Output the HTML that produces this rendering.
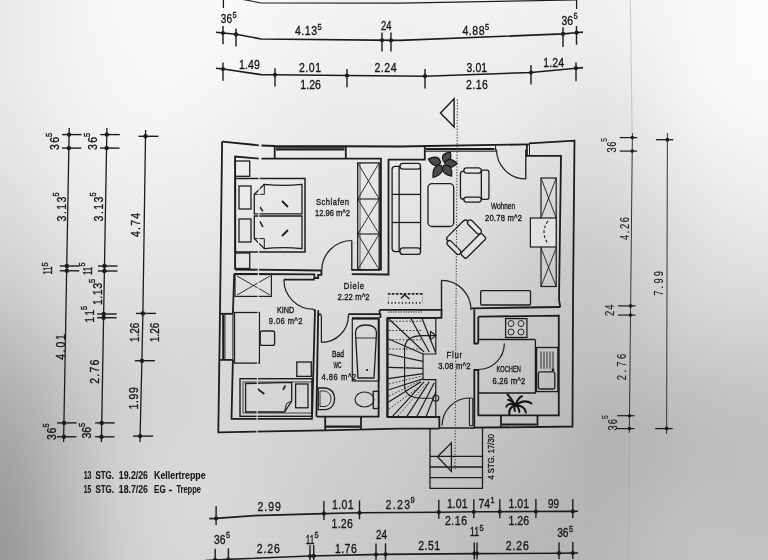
<!DOCTYPE html>
<html><head><meta charset="utf-8"><style>
html,body{margin:0;padding:0;}
body{width:768px;height:560px;overflow:hidden;position:relative;background:#dcdddb;}
svg{position:absolute;left:0;top:0;will-change:transform;}
text{font-family:"Liberation Sans",sans-serif;}
</style></head><body>
<svg width="768" height="560" viewBox="0 0 768 560">
<defs><filter id="bl" x="-20%" y="-20%" width="140%" height="140%"><feGaussianBlur stdDeviation="22"/></filter></defs>
<g filter="url(#bl)">
<rect x="-96" y="-93" width="50" height="48" fill="rgb(229,231,230)"/>
<rect x="-48" y="-93" width="50" height="48" fill="rgb(229,231,230)"/>
<rect x="0" y="-93" width="50" height="48" fill="rgb(234,236,235)"/>
<rect x="48" y="-93" width="50" height="48" fill="rgb(242,244,243)"/>
<rect x="96" y="-93" width="50" height="48" fill="rgb(247,249,248)"/>
<rect x="144" y="-93" width="50" height="48" fill="rgb(249,251,250)"/>
<rect x="192" y="-93" width="50" height="48" fill="rgb(249,251,250)"/>
<rect x="240" y="-93" width="50" height="48" fill="rgb(247,249,248)"/>
<rect x="288" y="-93" width="50" height="48" fill="rgb(244,246,245)"/>
<rect x="336" y="-93" width="50" height="48" fill="rgb(242,244,243)"/>
<rect x="384" y="-93" width="50" height="48" fill="rgb(241,243,242)"/>
<rect x="432" y="-93" width="50" height="48" fill="rgb(241,243,242)"/>
<rect x="480" y="-93" width="50" height="48" fill="rgb(241,243,242)"/>
<rect x="528" y="-93" width="50" height="48" fill="rgb(241,243,242)"/>
<rect x="576" y="-93" width="50" height="48" fill="rgb(241,243,242)"/>
<rect x="624" y="-93" width="50" height="48" fill="rgb(244,246,245)"/>
<rect x="672" y="-93" width="50" height="48" fill="rgb(248,250,249)"/>
<rect x="720" y="-93" width="50" height="48" fill="rgb(250,252,251)"/>
<rect x="768" y="-93" width="50" height="48" fill="rgb(250,252,251)"/>
<rect x="816" y="-93" width="50" height="48" fill="rgb(250,252,251)"/>
<rect x="-96" y="-47" width="50" height="48" fill="rgb(229,231,230)"/>
<rect x="-48" y="-47" width="50" height="48" fill="rgb(229,231,230)"/>
<rect x="0" y="-47" width="50" height="48" fill="rgb(234,236,235)"/>
<rect x="48" y="-47" width="50" height="48" fill="rgb(242,244,243)"/>
<rect x="96" y="-47" width="50" height="48" fill="rgb(247,249,248)"/>
<rect x="144" y="-47" width="50" height="48" fill="rgb(249,251,250)"/>
<rect x="192" y="-47" width="50" height="48" fill="rgb(249,251,250)"/>
<rect x="240" y="-47" width="50" height="48" fill="rgb(247,249,248)"/>
<rect x="288" y="-47" width="50" height="48" fill="rgb(244,246,245)"/>
<rect x="336" y="-47" width="50" height="48" fill="rgb(242,244,243)"/>
<rect x="384" y="-47" width="50" height="48" fill="rgb(241,243,242)"/>
<rect x="432" y="-47" width="50" height="48" fill="rgb(241,243,242)"/>
<rect x="480" y="-47" width="50" height="48" fill="rgb(241,243,242)"/>
<rect x="528" y="-47" width="50" height="48" fill="rgb(241,243,242)"/>
<rect x="576" y="-47" width="50" height="48" fill="rgb(241,243,242)"/>
<rect x="624" y="-47" width="50" height="48" fill="rgb(244,246,245)"/>
<rect x="672" y="-47" width="50" height="48" fill="rgb(248,250,249)"/>
<rect x="720" y="-47" width="50" height="48" fill="rgb(250,252,251)"/>
<rect x="768" y="-47" width="50" height="48" fill="rgb(250,252,251)"/>
<rect x="816" y="-47" width="50" height="48" fill="rgb(250,252,251)"/>
<rect x="-96" y="0" width="50" height="48" fill="rgb(229,231,230)"/>
<rect x="-48" y="0" width="50" height="48" fill="rgb(229,231,230)"/>
<rect x="0" y="0" width="50" height="48" fill="rgb(234,236,235)"/>
<rect x="48" y="0" width="50" height="48" fill="rgb(243,245,244)"/>
<rect x="96" y="0" width="50" height="48" fill="rgb(247,249,248)"/>
<rect x="144" y="0" width="50" height="48" fill="rgb(249,251,250)"/>
<rect x="192" y="0" width="50" height="48" fill="rgb(248,250,249)"/>
<rect x="240" y="0" width="50" height="48" fill="rgb(245,247,246)"/>
<rect x="288" y="0" width="50" height="48" fill="rgb(242,244,243)"/>
<rect x="336" y="0" width="50" height="48" fill="rgb(240,242,241)"/>
<rect x="384" y="0" width="50" height="48" fill="rgb(240,242,241)"/>
<rect x="432" y="0" width="50" height="48" fill="rgb(240,242,241)"/>
<rect x="480" y="0" width="50" height="48" fill="rgb(240,242,241)"/>
<rect x="528" y="0" width="50" height="48" fill="rgb(238,240,239)"/>
<rect x="576" y="0" width="50" height="48" fill="rgb(238,240,239)"/>
<rect x="624" y="0" width="50" height="48" fill="rgb(242,244,243)"/>
<rect x="672" y="0" width="50" height="48" fill="rgb(247,249,248)"/>
<rect x="720" y="0" width="50" height="48" fill="rgb(250,252,251)"/>
<rect x="768" y="0" width="50" height="48" fill="rgb(250,252,251)"/>
<rect x="816" y="0" width="50" height="48" fill="rgb(250,252,251)"/>
<rect x="-96" y="47" width="50" height="48" fill="rgb(229,231,230)"/>
<rect x="-48" y="47" width="50" height="48" fill="rgb(229,231,230)"/>
<rect x="0" y="47" width="50" height="48" fill="rgb(234,236,235)"/>
<rect x="48" y="47" width="50" height="48" fill="rgb(242,244,243)"/>
<rect x="96" y="47" width="50" height="48" fill="rgb(246,248,247)"/>
<rect x="144" y="47" width="50" height="48" fill="rgb(248,250,249)"/>
<rect x="192" y="47" width="50" height="48" fill="rgb(246,248,247)"/>
<rect x="240" y="47" width="50" height="48" fill="rgb(242,244,243)"/>
<rect x="288" y="47" width="50" height="48" fill="rgb(238,240,239)"/>
<rect x="336" y="47" width="50" height="48" fill="rgb(237,239,238)"/>
<rect x="384" y="47" width="50" height="48" fill="rgb(237,239,238)"/>
<rect x="432" y="47" width="50" height="48" fill="rgb(238,240,239)"/>
<rect x="480" y="47" width="50" height="48" fill="rgb(237,239,238)"/>
<rect x="528" y="47" width="50" height="48" fill="rgb(234,236,235)"/>
<rect x="576" y="47" width="50" height="48" fill="rgb(232,234,233)"/>
<rect x="624" y="47" width="50" height="48" fill="rgb(238,240,239)"/>
<rect x="672" y="47" width="50" height="48" fill="rgb(247,249,248)"/>
<rect x="720" y="47" width="50" height="48" fill="rgb(250,252,251)"/>
<rect x="768" y="47" width="50" height="48" fill="rgb(250,252,251)"/>
<rect x="816" y="47" width="50" height="48" fill="rgb(250,252,251)"/>
<rect x="-96" y="93" width="50" height="48" fill="rgb(226,228,227)"/>
<rect x="-48" y="93" width="50" height="48" fill="rgb(226,228,227)"/>
<rect x="0" y="93" width="50" height="48" fill="rgb(231,233,232)"/>
<rect x="48" y="93" width="50" height="48" fill="rgb(239,241,240)"/>
<rect x="96" y="93" width="50" height="48" fill="rgb(244,246,245)"/>
<rect x="144" y="93" width="50" height="48" fill="rgb(245,247,246)"/>
<rect x="192" y="93" width="50" height="48" fill="rgb(242,244,243)"/>
<rect x="240" y="93" width="50" height="48" fill="rgb(238,240,239)"/>
<rect x="288" y="93" width="50" height="48" fill="rgb(234,236,235)"/>
<rect x="336" y="93" width="50" height="48" fill="rgb(233,235,234)"/>
<rect x="384" y="93" width="50" height="48" fill="rgb(234,236,235)"/>
<rect x="432" y="93" width="50" height="48" fill="rgb(235,237,236)"/>
<rect x="480" y="93" width="50" height="48" fill="rgb(234,236,235)"/>
<rect x="528" y="93" width="50" height="48" fill="rgb(228,230,229)"/>
<rect x="576" y="93" width="50" height="48" fill="rgb(224,226,225)"/>
<rect x="624" y="93" width="50" height="48" fill="rgb(232,234,233)"/>
<rect x="672" y="93" width="50" height="48" fill="rgb(243,245,244)"/>
<rect x="720" y="93" width="50" height="48" fill="rgb(247,249,248)"/>
<rect x="768" y="93" width="50" height="48" fill="rgb(248,250,249)"/>
<rect x="816" y="93" width="50" height="48" fill="rgb(248,250,249)"/>
<rect x="-96" y="140" width="50" height="48" fill="rgb(222,224,223)"/>
<rect x="-48" y="140" width="50" height="48" fill="rgb(222,224,223)"/>
<rect x="0" y="140" width="50" height="48" fill="rgb(227,229,228)"/>
<rect x="48" y="140" width="50" height="48" fill="rgb(235,237,236)"/>
<rect x="96" y="140" width="50" height="48" fill="rgb(239,241,240)"/>
<rect x="144" y="140" width="50" height="48" fill="rgb(239,241,240)"/>
<rect x="192" y="140" width="50" height="48" fill="rgb(237,239,238)"/>
<rect x="240" y="140" width="50" height="48" fill="rgb(234,236,235)"/>
<rect x="288" y="140" width="50" height="48" fill="rgb(231,233,232)"/>
<rect x="336" y="140" width="50" height="48" fill="rgb(230,232,231)"/>
<rect x="384" y="140" width="50" height="48" fill="rgb(231,233,232)"/>
<rect x="432" y="140" width="50" height="48" fill="rgb(230,232,231)"/>
<rect x="480" y="140" width="50" height="48" fill="rgb(227,229,228)"/>
<rect x="528" y="140" width="50" height="48" fill="rgb(221,223,222)"/>
<rect x="576" y="140" width="50" height="48" fill="rgb(220,222,221)"/>
<rect x="624" y="140" width="50" height="48" fill="rgb(226,228,227)"/>
<rect x="672" y="140" width="50" height="48" fill="rgb(235,237,236)"/>
<rect x="720" y="140" width="50" height="48" fill="rgb(240,242,241)"/>
<rect x="768" y="140" width="50" height="48" fill="rgb(242,244,243)"/>
<rect x="816" y="140" width="50" height="48" fill="rgb(242,244,243)"/>
<rect x="-96" y="187" width="50" height="48" fill="rgb(215,217,216)"/>
<rect x="-48" y="187" width="50" height="48" fill="rgb(215,217,216)"/>
<rect x="0" y="187" width="50" height="48" fill="rgb(221,223,222)"/>
<rect x="48" y="187" width="50" height="48" fill="rgb(230,232,231)"/>
<rect x="96" y="187" width="50" height="48" fill="rgb(234,236,235)"/>
<rect x="144" y="187" width="50" height="48" fill="rgb(234,236,235)"/>
<rect x="192" y="187" width="50" height="48" fill="rgb(232,234,233)"/>
<rect x="240" y="187" width="50" height="48" fill="rgb(230,232,231)"/>
<rect x="288" y="187" width="50" height="48" fill="rgb(228,230,229)"/>
<rect x="336" y="187" width="50" height="48" fill="rgb(227,229,228)"/>
<rect x="384" y="187" width="50" height="48" fill="rgb(227,229,228)"/>
<rect x="432" y="187" width="50" height="48" fill="rgb(224,226,225)"/>
<rect x="480" y="187" width="50" height="48" fill="rgb(219,221,220)"/>
<rect x="528" y="187" width="50" height="48" fill="rgb(212,214,213)"/>
<rect x="576" y="187" width="50" height="48" fill="rgb(210,212,211)"/>
<rect x="624" y="187" width="50" height="48" fill="rgb(218,220,219)"/>
<rect x="672" y="187" width="50" height="48" fill="rgb(227,229,228)"/>
<rect x="720" y="187" width="50" height="48" fill="rgb(233,235,234)"/>
<rect x="768" y="187" width="50" height="48" fill="rgb(234,236,235)"/>
<rect x="816" y="187" width="50" height="48" fill="rgb(234,236,235)"/>
<rect x="-96" y="233" width="50" height="48" fill="rgb(207,209,208)"/>
<rect x="-48" y="233" width="50" height="48" fill="rgb(207,209,208)"/>
<rect x="0" y="233" width="50" height="48" fill="rgb(213,215,214)"/>
<rect x="48" y="233" width="50" height="48" fill="rgb(223,225,224)"/>
<rect x="96" y="233" width="50" height="48" fill="rgb(228,230,229)"/>
<rect x="144" y="233" width="50" height="48" fill="rgb(228,230,229)"/>
<rect x="192" y="233" width="50" height="48" fill="rgb(227,229,228)"/>
<rect x="240" y="233" width="50" height="48" fill="rgb(225,227,226)"/>
<rect x="288" y="233" width="50" height="48" fill="rgb(224,226,225)"/>
<rect x="336" y="233" width="50" height="48" fill="rgb(223,225,224)"/>
<rect x="384" y="233" width="50" height="48" fill="rgb(222,224,223)"/>
<rect x="432" y="233" width="50" height="48" fill="rgb(219,221,220)"/>
<rect x="480" y="233" width="50" height="48" fill="rgb(212,214,213)"/>
<rect x="528" y="233" width="50" height="48" fill="rgb(203,205,204)"/>
<rect x="576" y="233" width="50" height="48" fill="rgb(200,202,201)"/>
<rect x="624" y="233" width="50" height="48" fill="rgb(210,212,211)"/>
<rect x="672" y="233" width="50" height="48" fill="rgb(221,223,222)"/>
<rect x="720" y="233" width="50" height="48" fill="rgb(225,227,226)"/>
<rect x="768" y="233" width="50" height="48" fill="rgb(226,228,227)"/>
<rect x="816" y="233" width="50" height="48" fill="rgb(226,228,227)"/>
<rect x="-96" y="280" width="50" height="48" fill="rgb(195,197,196)"/>
<rect x="-48" y="280" width="50" height="48" fill="rgb(195,197,196)"/>
<rect x="0" y="280" width="50" height="48" fill="rgb(202,204,203)"/>
<rect x="48" y="280" width="50" height="48" fill="rgb(214,216,215)"/>
<rect x="96" y="280" width="50" height="48" fill="rgb(221,223,222)"/>
<rect x="144" y="280" width="50" height="48" fill="rgb(222,224,223)"/>
<rect x="192" y="280" width="50" height="48" fill="rgb(221,223,222)"/>
<rect x="240" y="280" width="50" height="48" fill="rgb(220,222,221)"/>
<rect x="288" y="280" width="50" height="48" fill="rgb(220,222,221)"/>
<rect x="336" y="280" width="50" height="48" fill="rgb(218,220,219)"/>
<rect x="384" y="280" width="50" height="48" fill="rgb(216,218,217)"/>
<rect x="432" y="280" width="50" height="48" fill="rgb(212,214,213)"/>
<rect x="480" y="280" width="50" height="48" fill="rgb(205,207,206)"/>
<rect x="528" y="280" width="50" height="48" fill="rgb(198,200,199)"/>
<rect x="576" y="280" width="50" height="48" fill="rgb(196,198,197)"/>
<rect x="624" y="280" width="50" height="48" fill="rgb(204,206,205)"/>
<rect x="672" y="280" width="50" height="48" fill="rgb(214,216,215)"/>
<rect x="720" y="280" width="50" height="48" fill="rgb(216,218,217)"/>
<rect x="768" y="280" width="50" height="48" fill="rgb(215,217,216)"/>
<rect x="816" y="280" width="50" height="48" fill="rgb(215,217,216)"/>
<rect x="-96" y="327" width="50" height="48" fill="rgb(182,184,183)"/>
<rect x="-48" y="327" width="50" height="48" fill="rgb(182,184,183)"/>
<rect x="0" y="327" width="50" height="48" fill="rgb(189,191,190)"/>
<rect x="48" y="327" width="50" height="48" fill="rgb(203,205,204)"/>
<rect x="96" y="327" width="50" height="48" fill="rgb(212,214,213)"/>
<rect x="144" y="327" width="50" height="48" fill="rgb(215,217,216)"/>
<rect x="192" y="327" width="50" height="48" fill="rgb(216,218,217)"/>
<rect x="240" y="327" width="50" height="48" fill="rgb(216,218,217)"/>
<rect x="288" y="327" width="50" height="48" fill="rgb(215,217,216)"/>
<rect x="336" y="327" width="50" height="48" fill="rgb(213,215,214)"/>
<rect x="384" y="327" width="50" height="48" fill="rgb(210,212,211)"/>
<rect x="432" y="327" width="50" height="48" fill="rgb(206,208,207)"/>
<rect x="480" y="327" width="50" height="48" fill="rgb(200,202,201)"/>
<rect x="528" y="327" width="50" height="48" fill="rgb(194,196,195)"/>
<rect x="576" y="327" width="50" height="48" fill="rgb(192,194,193)"/>
<rect x="624" y="327" width="50" height="48" fill="rgb(196,198,197)"/>
<rect x="672" y="327" width="50" height="48" fill="rgb(203,205,204)"/>
<rect x="720" y="327" width="50" height="48" fill="rgb(204,206,205)"/>
<rect x="768" y="327" width="50" height="48" fill="rgb(205,207,206)"/>
<rect x="816" y="327" width="50" height="48" fill="rgb(205,207,206)"/>
<rect x="-96" y="373" width="50" height="48" fill="rgb(169,171,170)"/>
<rect x="-48" y="373" width="50" height="48" fill="rgb(169,171,170)"/>
<rect x="0" y="373" width="50" height="48" fill="rgb(177,179,178)"/>
<rect x="48" y="373" width="50" height="48" fill="rgb(195,197,196)"/>
<rect x="96" y="373" width="50" height="48" fill="rgb(207,209,208)"/>
<rect x="144" y="373" width="50" height="48" fill="rgb(212,214,213)"/>
<rect x="192" y="373" width="50" height="48" fill="rgb(214,216,215)"/>
<rect x="240" y="373" width="50" height="48" fill="rgb(213,215,214)"/>
<rect x="288" y="373" width="50" height="48" fill="rgb(211,213,212)"/>
<rect x="336" y="373" width="50" height="48" fill="rgb(209,211,210)"/>
<rect x="384" y="373" width="50" height="48" fill="rgb(205,207,206)"/>
<rect x="432" y="373" width="50" height="48" fill="rgb(201,203,202)"/>
<rect x="480" y="373" width="50" height="48" fill="rgb(196,198,197)"/>
<rect x="528" y="373" width="50" height="48" fill="rgb(190,192,191)"/>
<rect x="576" y="373" width="50" height="48" fill="rgb(183,185,184)"/>
<rect x="624" y="373" width="50" height="48" fill="rgb(186,188,187)"/>
<rect x="672" y="373" width="50" height="48" fill="rgb(192,194,193)"/>
<rect x="720" y="373" width="50" height="48" fill="rgb(195,197,196)"/>
<rect x="768" y="373" width="50" height="48" fill="rgb(196,198,197)"/>
<rect x="816" y="373" width="50" height="48" fill="rgb(196,198,197)"/>
<rect x="-96" y="420" width="50" height="48" fill="rgb(159,161,160)"/>
<rect x="-48" y="420" width="50" height="48" fill="rgb(159,161,160)"/>
<rect x="0" y="420" width="50" height="48" fill="rgb(168,170,169)"/>
<rect x="48" y="420" width="50" height="48" fill="rgb(190,192,191)"/>
<rect x="96" y="420" width="50" height="48" fill="rgb(207,209,208)"/>
<rect x="144" y="420" width="50" height="48" fill="rgb(214,216,215)"/>
<rect x="192" y="420" width="50" height="48" fill="rgb(215,217,216)"/>
<rect x="240" y="420" width="50" height="48" fill="rgb(212,214,213)"/>
<rect x="288" y="420" width="50" height="48" fill="rgb(208,210,209)"/>
<rect x="336" y="420" width="50" height="48" fill="rgb(205,207,206)"/>
<rect x="384" y="420" width="50" height="48" fill="rgb(201,203,202)"/>
<rect x="432" y="420" width="50" height="48" fill="rgb(196,198,197)"/>
<rect x="480" y="420" width="50" height="48" fill="rgb(192,194,193)"/>
<rect x="528" y="420" width="50" height="48" fill="rgb(188,190,189)"/>
<rect x="576" y="420" width="50" height="48" fill="rgb(174,176,175)"/>
<rect x="624" y="420" width="50" height="48" fill="rgb(180,182,181)"/>
<rect x="672" y="420" width="50" height="48" fill="rgb(187,189,188)"/>
<rect x="720" y="420" width="50" height="48" fill="rgb(189,191,190)"/>
<rect x="768" y="420" width="50" height="48" fill="rgb(190,192,191)"/>
<rect x="816" y="420" width="50" height="48" fill="rgb(190,192,191)"/>
<rect x="-96" y="467" width="50" height="48" fill="rgb(152,154,153)"/>
<rect x="-48" y="467" width="50" height="48" fill="rgb(152,154,153)"/>
<rect x="0" y="467" width="50" height="48" fill="rgb(162,164,163)"/>
<rect x="48" y="467" width="50" height="48" fill="rgb(187,189,188)"/>
<rect x="96" y="467" width="50" height="48" fill="rgb(207,209,208)"/>
<rect x="144" y="467" width="50" height="48" fill="rgb(216,218,217)"/>
<rect x="192" y="467" width="50" height="48" fill="rgb(216,218,217)"/>
<rect x="240" y="467" width="50" height="48" fill="rgb(211,213,212)"/>
<rect x="288" y="467" width="50" height="48" fill="rgb(205,207,206)"/>
<rect x="336" y="467" width="50" height="48" fill="rgb(202,204,203)"/>
<rect x="384" y="467" width="50" height="48" fill="rgb(199,201,200)"/>
<rect x="432" y="467" width="50" height="48" fill="rgb(193,195,194)"/>
<rect x="480" y="467" width="50" height="48" fill="rgb(188,190,189)"/>
<rect x="528" y="467" width="50" height="48" fill="rgb(184,186,185)"/>
<rect x="576" y="467" width="50" height="48" fill="rgb(177,179,178)"/>
<rect x="624" y="467" width="50" height="48" fill="rgb(184,186,185)"/>
<rect x="672" y="467" width="50" height="48" fill="rgb(190,192,191)"/>
<rect x="720" y="467" width="50" height="48" fill="rgb(190,192,191)"/>
<rect x="768" y="467" width="50" height="48" fill="rgb(191,193,192)"/>
<rect x="816" y="467" width="50" height="48" fill="rgb(191,193,192)"/>
<rect x="-96" y="513" width="50" height="48" fill="rgb(148,150,149)"/>
<rect x="-48" y="513" width="50" height="48" fill="rgb(148,150,149)"/>
<rect x="0" y="513" width="50" height="48" fill="rgb(157,159,158)"/>
<rect x="48" y="513" width="50" height="48" fill="rgb(183,185,184)"/>
<rect x="96" y="513" width="50" height="48" fill="rgb(206,208,207)"/>
<rect x="144" y="513" width="50" height="48" fill="rgb(215,217,216)"/>
<rect x="192" y="513" width="50" height="48" fill="rgb(215,217,216)"/>
<rect x="240" y="513" width="50" height="48" fill="rgb(210,212,211)"/>
<rect x="288" y="513" width="50" height="48" fill="rgb(205,207,206)"/>
<rect x="336" y="513" width="50" height="48" fill="rgb(201,203,202)"/>
<rect x="384" y="513" width="50" height="48" fill="rgb(198,200,199)"/>
<rect x="432" y="513" width="50" height="48" fill="rgb(192,194,193)"/>
<rect x="480" y="513" width="50" height="48" fill="rgb(186,188,187)"/>
<rect x="528" y="513" width="50" height="48" fill="rgb(181,183,182)"/>
<rect x="576" y="513" width="50" height="48" fill="rgb(180,182,181)"/>
<rect x="624" y="513" width="50" height="48" fill="rgb(189,191,190)"/>
<rect x="672" y="513" width="50" height="48" fill="rgb(194,196,195)"/>
<rect x="720" y="513" width="50" height="48" fill="rgb(193,195,194)"/>
<rect x="768" y="513" width="50" height="48" fill="rgb(192,194,193)"/>
<rect x="816" y="513" width="50" height="48" fill="rgb(192,194,193)"/>
<rect x="-96" y="560" width="50" height="48" fill="rgb(148,150,149)"/>
<rect x="-48" y="560" width="50" height="48" fill="rgb(148,150,149)"/>
<rect x="0" y="560" width="50" height="48" fill="rgb(155,157,156)"/>
<rect x="48" y="560" width="50" height="48" fill="rgb(180,182,181)"/>
<rect x="96" y="560" width="50" height="48" fill="rgb(203,205,204)"/>
<rect x="144" y="560" width="50" height="48" fill="rgb(212,214,213)"/>
<rect x="192" y="560" width="50" height="48" fill="rgb(213,215,214)"/>
<rect x="240" y="560" width="50" height="48" fill="rgb(209,211,210)"/>
<rect x="288" y="560" width="50" height="48" fill="rgb(205,207,206)"/>
<rect x="336" y="560" width="50" height="48" fill="rgb(201,203,202)"/>
<rect x="384" y="560" width="50" height="48" fill="rgb(197,199,198)"/>
<rect x="432" y="560" width="50" height="48" fill="rgb(191,193,192)"/>
<rect x="480" y="560" width="50" height="48" fill="rgb(186,188,187)"/>
<rect x="528" y="560" width="50" height="48" fill="rgb(181,183,182)"/>
<rect x="576" y="560" width="50" height="48" fill="rgb(181,183,182)"/>
<rect x="624" y="560" width="50" height="48" fill="rgb(188,190,189)"/>
<rect x="672" y="560" width="50" height="48" fill="rgb(193,195,194)"/>
<rect x="720" y="560" width="50" height="48" fill="rgb(193,195,194)"/>
<rect x="768" y="560" width="50" height="48" fill="rgb(193,195,194)"/>
<rect x="816" y="560" width="50" height="48" fill="rgb(193,195,194)"/>
<rect x="-96" y="607" width="50" height="48" fill="rgb(148,150,149)"/>
<rect x="-48" y="607" width="50" height="48" fill="rgb(148,150,149)"/>
<rect x="0" y="607" width="50" height="48" fill="rgb(155,157,156)"/>
<rect x="48" y="607" width="50" height="48" fill="rgb(180,182,181)"/>
<rect x="96" y="607" width="50" height="48" fill="rgb(203,205,204)"/>
<rect x="144" y="607" width="50" height="48" fill="rgb(212,214,213)"/>
<rect x="192" y="607" width="50" height="48" fill="rgb(213,215,214)"/>
<rect x="240" y="607" width="50" height="48" fill="rgb(209,211,210)"/>
<rect x="288" y="607" width="50" height="48" fill="rgb(205,207,206)"/>
<rect x="336" y="607" width="50" height="48" fill="rgb(201,203,202)"/>
<rect x="384" y="607" width="50" height="48" fill="rgb(197,199,198)"/>
<rect x="432" y="607" width="50" height="48" fill="rgb(191,193,192)"/>
<rect x="480" y="607" width="50" height="48" fill="rgb(186,188,187)"/>
<rect x="528" y="607" width="50" height="48" fill="rgb(181,183,182)"/>
<rect x="576" y="607" width="50" height="48" fill="rgb(181,183,182)"/>
<rect x="624" y="607" width="50" height="48" fill="rgb(188,190,189)"/>
<rect x="672" y="607" width="50" height="48" fill="rgb(193,195,194)"/>
<rect x="720" y="607" width="50" height="48" fill="rgb(193,195,194)"/>
<rect x="768" y="607" width="50" height="48" fill="rgb(193,195,194)"/>
<rect x="816" y="607" width="50" height="48" fill="rgb(193,195,194)"/>
</g>
</svg>
<svg width="768" height="560" viewBox="0 0 768 560">
<polyline points="241.0,-1.0 261.0,3.0 400.0,3.1 576.0,0.0" fill="none" stroke="#1c1c1c" stroke-width="1.2" />
<line x1="223.4" y1="-1.0" x2="223.4" y2="8.0" stroke="#1c1c1c" stroke-width="1.3" />
<line x1="576.6" y1="-1.0" x2="576.6" y2="9.0" stroke="#1c1c1c" stroke-width="1.3" />
<polyline points="216.0,32.2 223.0,33.0 236.0,34.3 261.0,39.0 400.0,40.4 563.0,33.9 576.0,32.7 583.0,32.1" fill="none" stroke="#1c1c1c" stroke-width="1.6" />
<line x1="223.0" y1="26.0" x2="223.0" y2="44.3" stroke="#1c1c1c" stroke-width="1.4" />
<circle cx="223.0" cy="33.0" r="2.1" fill="#1c1c1c"/>
<line x1="236.0" y1="28.6" x2="236.0" y2="46.4" stroke="#1c1c1c" stroke-width="1.4" />
<circle cx="236.0" cy="34.4" r="2.1" fill="#1c1c1c"/>
<line x1="382.0" y1="32.6" x2="382.0" y2="51.6" stroke="#1c1c1c" stroke-width="1.4" />
<circle cx="382.0" cy="40.3" r="2.1" fill="#1c1c1c"/>
<line x1="391.0" y1="32.6" x2="391.0" y2="51.6" stroke="#1c1c1c" stroke-width="1.4" />
<circle cx="391.0" cy="40.4" r="2.1" fill="#1c1c1c"/>
<line x1="563.0" y1="27.3" x2="563.0" y2="46.9" stroke="#1c1c1c" stroke-width="1.4" />
<circle cx="563.0" cy="33.9" r="2.1" fill="#1c1c1c"/>
<line x1="576.5" y1="26.0" x2="576.5" y2="44.8" stroke="#1c1c1c" stroke-width="1.4" />
<circle cx="576.5" cy="32.7" r="2.1" fill="#1c1c1c"/>
<polyline points="216.0,68.2 223.0,69.0 261.0,74.6 275.0,74.8 347.0,75.5 400.0,76.0 425.0,76.2 531.0,72.5 576.0,68.2 583.0,67.6" fill="none" stroke="#1c1c1c" stroke-width="1.6" />
<line x1="223.0" y1="62.5" x2="223.0" y2="80.7" stroke="#1c1c1c" stroke-width="1.4" />
<circle cx="223.0" cy="69.0" r="2.1" fill="#1c1c1c"/>
<line x1="275.0" y1="68.2" x2="275.0" y2="86.5" stroke="#1c1c1c" stroke-width="1.4" />
<circle cx="275.0" cy="74.8" r="2.1" fill="#1c1c1c"/>
<line x1="347.0" y1="69.0" x2="347.0" y2="87.2" stroke="#1c1c1c" stroke-width="1.4" />
<circle cx="347.0" cy="75.5" r="2.1" fill="#1c1c1c"/>
<line x1="425.0" y1="69.0" x2="425.0" y2="88.5" stroke="#1c1c1c" stroke-width="1.4" />
<circle cx="425.0" cy="76.2" r="2.1" fill="#1c1c1c"/>
<line x1="531.0" y1="65.0" x2="531.0" y2="84.6" stroke="#1c1c1c" stroke-width="1.4" />
<circle cx="531.0" cy="72.5" r="2.1" fill="#1c1c1c"/>
<line x1="576.0" y1="62.5" x2="576.0" y2="81.2" stroke="#1c1c1c" stroke-width="1.4" />
<circle cx="576.0" cy="68.2" r="2.1" fill="#1c1c1c"/>
<text transform="translate(220.8,22.9) scale(0.78,1)" font-size="13.5" textLength="14.4" lengthAdjust="spacingAndGlyphs" fill="#161616" stroke="#161616" stroke-width="0.35" font-weight="normal">36</text>
<text transform="translate(232.6,17.5) scale(0.78,1)" font-size="9.5" textLength="6.7" lengthAdjust="spacing" fill="#161616" stroke="#161616" stroke-width="0.35" font-weight="normal">5</text>
<text transform="translate(295.0,35.2) scale(0.78,1)" font-size="13.5" textLength="28.2" lengthAdjust="spacing" fill="#161616" stroke="#161616" stroke-width="0.35" font-weight="normal">4.13</text>
<text transform="translate(317.4,29.5) scale(0.78,1)" font-size="9.5" textLength="6.4" lengthAdjust="spacing" fill="#161616" stroke="#161616" stroke-width="0.35" font-weight="normal">5</text>
<text transform="translate(381.0,30.0) scale(0.78,1)" font-size="13.5" textLength="13.3" lengthAdjust="spacingAndGlyphs" fill="#161616" stroke="#161616" stroke-width="0.35" font-weight="normal">24</text>
<text transform="translate(462.5,35.2) scale(0.78,1)" font-size="13.5" textLength="28.2" lengthAdjust="spacing" fill="#161616" stroke="#161616" stroke-width="0.35" font-weight="normal">4.88</text>
<text transform="translate(484.9,29.5) scale(0.78,1)" font-size="9.5" textLength="6.3" lengthAdjust="spacing" fill="#161616" stroke="#161616" stroke-width="0.35" font-weight="normal">5</text>
<text transform="translate(561.5,24.7) scale(0.78,1)" font-size="13.5" textLength="14.7" lengthAdjust="spacingAndGlyphs" fill="#161616" stroke="#161616" stroke-width="0.35" font-weight="normal">36</text>
<text transform="translate(573.4,19.3) scale(0.78,1)" font-size="9.5" textLength="6.4" lengthAdjust="spacing" fill="#161616" stroke="#161616" stroke-width="0.35" font-weight="normal">5</text>
<text transform="translate(239.0,69.0) scale(0.78,1)" font-size="13.5" textLength="26.8" lengthAdjust="spacing" fill="#161616" stroke="#161616" stroke-width="0.35" font-weight="normal">1.49</text>
<text transform="translate(299.0,71.6) scale(0.78,1)" font-size="13.5" textLength="28.2" lengthAdjust="spacing" fill="#161616" stroke="#161616" stroke-width="0.35" font-weight="normal">2.01</text>
<text transform="translate(374.5,71.6) scale(0.78,1)" font-size="13.5" textLength="28.3" lengthAdjust="spacing" fill="#161616" stroke="#161616" stroke-width="0.35" font-weight="normal">2.24</text>
<text transform="translate(466.4,71.6) scale(0.78,1)" font-size="13.5" textLength="26.7" lengthAdjust="spacing" fill="#161616" stroke="#161616" stroke-width="0.35" font-weight="normal">3.01</text>
<text transform="translate(543.2,67.2) scale(0.78,1)" font-size="13.5" textLength="26.7" lengthAdjust="spacing" fill="#161616" stroke="#161616" stroke-width="0.35" font-weight="normal">1.24</text>
<text transform="translate(300.3,88.5) scale(0.78,1)" font-size="13.5" textLength="26.5" lengthAdjust="spacing" fill="#161616" stroke="#161616" stroke-width="0.35" font-weight="normal">1.26</text>
<text transform="translate(465.9,88.5) scale(0.78,1)" font-size="13.5" textLength="28.3" lengthAdjust="spacing" fill="#161616" stroke="#161616" stroke-width="0.35" font-weight="normal">2.16</text>
<polyline points="69.2,128.0 63.6,442.0" fill="none" stroke="#1c1c1c" stroke-width="1.3" />
<line x1="62.1" y1="134.6" x2="81.6" y2="134.6" stroke="#1c1c1c" stroke-width="1.4" />
<circle cx="69.1" cy="134.6" r="2.2" fill="#1c1c1c"/>
<line x1="61.9" y1="148.1" x2="81.4" y2="148.1" stroke="#1c1c1c" stroke-width="1.4" />
<circle cx="68.9" cy="148.1" r="2.2" fill="#1c1c1c"/>
<line x1="59.8" y1="266.0" x2="79.3" y2="266.0" stroke="#1c1c1c" stroke-width="1.4" />
<circle cx="66.8" cy="266.0" r="2.2" fill="#1c1c1c"/>
<line x1="59.8" y1="270.8" x2="79.3" y2="270.8" stroke="#1c1c1c" stroke-width="1.4" />
<circle cx="66.8" cy="270.8" r="2.2" fill="#1c1c1c"/>
<line x1="57.1" y1="422.9" x2="76.6" y2="422.9" stroke="#1c1c1c" stroke-width="1.4" />
<circle cx="64.1" cy="422.9" r="2.2" fill="#1c1c1c"/>
<line x1="56.9" y1="436.8" x2="76.4" y2="436.8" stroke="#1c1c1c" stroke-width="1.4" />
<circle cx="63.9" cy="436.8" r="2.2" fill="#1c1c1c"/>
<polyline points="106.9,128.0 101.4,442.0" fill="none" stroke="#1c1c1c" stroke-width="1.3" />
<line x1="100.3" y1="134.6" x2="119.8" y2="134.6" stroke="#1c1c1c" stroke-width="1.4" />
<circle cx="106.8" cy="134.6" r="2.2" fill="#1c1c1c"/>
<line x1="100.1" y1="148.1" x2="119.6" y2="148.1" stroke="#1c1c1c" stroke-width="1.4" />
<circle cx="106.6" cy="148.1" r="2.2" fill="#1c1c1c"/>
<line x1="98.0" y1="266.0" x2="117.5" y2="266.0" stroke="#1c1c1c" stroke-width="1.4" />
<circle cx="104.5" cy="266.0" r="2.2" fill="#1c1c1c"/>
<line x1="97.9" y1="271.0" x2="117.4" y2="271.0" stroke="#1c1c1c" stroke-width="1.4" />
<circle cx="104.4" cy="271.0" r="2.2" fill="#1c1c1c"/>
<line x1="97.2" y1="314.0" x2="116.7" y2="314.0" stroke="#1c1c1c" stroke-width="1.4" />
<circle cx="103.7" cy="314.0" r="2.2" fill="#1c1c1c"/>
<line x1="97.1" y1="317.7" x2="116.6" y2="317.7" stroke="#1c1c1c" stroke-width="1.4" />
<circle cx="103.6" cy="317.7" r="2.2" fill="#1c1c1c"/>
<line x1="95.2" y1="422.9" x2="114.7" y2="422.9" stroke="#1c1c1c" stroke-width="1.4" />
<circle cx="101.7" cy="422.9" r="2.2" fill="#1c1c1c"/>
<line x1="95.0" y1="436.8" x2="114.5" y2="436.8" stroke="#1c1c1c" stroke-width="1.4" />
<circle cx="101.5" cy="436.8" r="2.2" fill="#1c1c1c"/>
<polyline points="145.6,130.0 145.5,136.3 142.9,313.4 141.9,360.7 140.1,436.1 140.0,442.0" fill="none" stroke="#1c1c1c" stroke-width="1.3" />
<line x1="138.5" y1="136.3" x2="158.5" y2="136.3" stroke="#1c1c1c" stroke-width="1.4" />
<circle cx="145.5" cy="136.3" r="2.2" fill="#1c1c1c"/>
<line x1="135.9" y1="313.4" x2="155.9" y2="313.4" stroke="#1c1c1c" stroke-width="1.4" />
<circle cx="142.9" cy="313.4" r="2.2" fill="#1c1c1c"/>
<line x1="134.9" y1="360.7" x2="154.9" y2="360.7" stroke="#1c1c1c" stroke-width="1.4" />
<circle cx="141.9" cy="360.7" r="2.2" fill="#1c1c1c"/>
<line x1="133.1" y1="436.1" x2="153.1" y2="436.1" stroke="#1c1c1c" stroke-width="1.4" />
<circle cx="140.1" cy="436.1" r="2.2" fill="#1c1c1c"/>
<text transform="translate(58.6,150.0) rotate(-90) scale(0.78,1)" font-size="13.5" textLength="16.7" lengthAdjust="spacing" fill="#161616" stroke="#161616" stroke-width="0.35">36</text>
<text transform="translate(51.5,137.0) rotate(-90) scale(0.78,1)" font-size="9.5" textLength="7.2" lengthAdjust="spacing" fill="#161616" stroke="#161616" stroke-width="0.35">5</text>
<text transform="translate(65.7,221.4) rotate(-90) scale(0.78,1)" font-size="13.5" textLength="31.9" lengthAdjust="spacing" fill="#161616" stroke="#161616" stroke-width="0.35">3.13</text>
<text transform="translate(58.5,196.5) rotate(-90) scale(0.78,1)" font-size="9.5" textLength="6.5" lengthAdjust="spacing" fill="#161616" stroke="#161616" stroke-width="0.35">5</text>
<text transform="translate(97.0,150.0) rotate(-90) scale(0.78,1)" font-size="13.5" textLength="16.7" lengthAdjust="spacing" fill="#161616" stroke="#161616" stroke-width="0.35">36</text>
<text transform="translate(90.0,137.0) rotate(-90) scale(0.78,1)" font-size="9.5" textLength="7.2" lengthAdjust="spacing" fill="#161616" stroke="#161616" stroke-width="0.35">5</text>
<text transform="translate(102.9,221.4) rotate(-90) scale(0.78,1)" font-size="13.5" textLength="31.9" lengthAdjust="spacing" fill="#161616" stroke="#161616" stroke-width="0.35">3.13</text>
<text transform="translate(96.0,196.5) rotate(-90) scale(0.78,1)" font-size="9.5" textLength="6.5" lengthAdjust="spacing" fill="#161616" stroke="#161616" stroke-width="0.35">5</text>
<text transform="translate(140.0,237.1) rotate(-90) scale(0.78,1)" font-size="13.5" textLength="31.0" lengthAdjust="spacing" fill="#161616" stroke="#161616" stroke-width="0.35">4.74</text>
<text transform="translate(51.6,274.4) rotate(-90) scale(0.78,1)" font-size="13.5" textLength="10.1" lengthAdjust="spacingAndGlyphs" fill="#161616" stroke="#161616" stroke-width="0.35">11</text>
<text transform="translate(47.9,266.4) rotate(-90) scale(0.78,1)" font-size="9.5" textLength="7.7" lengthAdjust="spacing" fill="#161616" stroke="#161616" stroke-width="0.35">5</text>
<text transform="translate(65.4,359.7) rotate(-90) scale(0.78,1)" font-size="13.5" textLength="32.9" lengthAdjust="spacing" fill="#161616" stroke="#161616" stroke-width="0.35">4.01</text>
<text transform="translate(55.7,440.0) rotate(-90) scale(0.78,1)" font-size="13.5" textLength="16.0" lengthAdjust="spacing" fill="#161616" stroke="#161616" stroke-width="0.35">36</text>
<text transform="translate(48.5,427.5) rotate(-90) scale(0.78,1)" font-size="9.5" textLength="7.1" lengthAdjust="spacing" fill="#161616" stroke="#161616" stroke-width="0.35">5</text>
<text transform="translate(94.3,322.7) rotate(-90) scale(0.78,1)" font-size="13.5" textLength="16.3" lengthAdjust="spacing" fill="#161616" stroke="#161616" stroke-width="0.35">11</text>
<text transform="translate(87.0,310.0) rotate(-90) scale(0.78,1)" font-size="9.5" textLength="6.4" lengthAdjust="spacing" fill="#161616" stroke="#161616" stroke-width="0.35">5</text>
<text transform="translate(102.3,305.0) rotate(-90) scale(0.78,1)" font-size="13.5" textLength="28.2" lengthAdjust="spacing" fill="#161616" stroke="#161616" stroke-width="0.35">1.13</text>
<text transform="translate(95.0,283.0) rotate(-90) scale(0.78,1)" font-size="9.5" textLength="6.8" lengthAdjust="spacing" fill="#161616" stroke="#161616" stroke-width="0.35">5</text>
<text transform="translate(99.0,383.8) rotate(-90) scale(0.78,1)" font-size="13.5" textLength="30.9" lengthAdjust="spacing" fill="#161616" stroke="#161616" stroke-width="0.35">2.76</text>
<text transform="translate(91.3,438.6) rotate(-90) scale(0.78,1)" font-size="13.5" textLength="15.0" lengthAdjust="spacingAndGlyphs" fill="#161616" stroke="#161616" stroke-width="0.35">36</text>
<text transform="translate(84.7,426.9) rotate(-90) scale(0.78,1)" font-size="9.5" textLength="7.1" lengthAdjust="spacing" fill="#161616" stroke="#161616" stroke-width="0.35">5</text>
<text transform="translate(92.0,275.0) rotate(-90) scale(0.78,1)" font-size="13.5" textLength="10.3" lengthAdjust="spacingAndGlyphs" fill="#161616" stroke="#161616" stroke-width="0.35">11</text>
<text transform="translate(85.0,266.4) rotate(-90) scale(0.78,1)" font-size="9.5" textLength="7.7" lengthAdjust="spacing" fill="#161616" stroke="#161616" stroke-width="0.35">5</text>
<text transform="translate(139.3,342.0) rotate(-90) scale(0.78,1)" font-size="13.5" textLength="24.7" lengthAdjust="spacingAndGlyphs" fill="#161616" stroke="#161616" stroke-width="0.35">1.26</text>
<text transform="translate(158.6,342.0) rotate(-90) scale(0.78,1)" font-size="13.5" textLength="24.7" lengthAdjust="spacingAndGlyphs" fill="#161616" stroke="#161616" stroke-width="0.35">1.26</text>
<text transform="translate(137.7,409.5) rotate(-90) scale(0.78,1)" font-size="13.5" textLength="28.8" lengthAdjust="spacing" fill="#161616" stroke="#161616" stroke-width="0.35">1.99</text>
<line x1="630.3" y1="0.0" x2="632.1" y2="133.0" stroke="#b4b6b4" stroke-width="0.7" />
<polyline points="632.4,133.0 629.3,433.0" fill="none" stroke="#333" stroke-width="1.0" />
<line x1="619.8" y1="137.6" x2="637.3" y2="137.6" stroke="#1c1c1c" stroke-width="1.2" />
<circle cx="632.3" cy="137.6" r="1.8" fill="#1c1c1c"/>
<line x1="619.7" y1="151.1" x2="637.2" y2="151.1" stroke="#1c1c1c" stroke-width="1.2" />
<circle cx="632.2" cy="151.1" r="1.8" fill="#1c1c1c"/>
<line x1="618.1" y1="305.9" x2="635.6" y2="305.9" stroke="#1c1c1c" stroke-width="1.2" />
<circle cx="630.6" cy="305.9" r="1.8" fill="#1c1c1c"/>
<line x1="618.0" y1="315.1" x2="635.5" y2="315.1" stroke="#1c1c1c" stroke-width="1.2" />
<circle cx="630.5" cy="315.1" r="1.8" fill="#1c1c1c"/>
<line x1="617.0" y1="415.7" x2="634.5" y2="415.7" stroke="#1c1c1c" stroke-width="1.2" />
<circle cx="629.5" cy="415.7" r="1.8" fill="#1c1c1c"/>
<line x1="616.9" y1="428.6" x2="634.4" y2="428.6" stroke="#1c1c1c" stroke-width="1.2" />
<circle cx="629.4" cy="428.6" r="1.8" fill="#1c1c1c"/>
<line x1="629.3" y1="433.0" x2="628.3" y2="560.0" stroke="#a8aaa8" stroke-width="0.7" />
<polyline points="667.4,133.0 666.6,434.0" fill="none" stroke="#333" stroke-width="1.0" />
<line x1="655.9" y1="139.7" x2="673.4" y2="139.7" stroke="#1c1c1c" stroke-width="1.3" />
<circle cx="667.4" cy="139.7" r="2.0" fill="#1c1c1c"/>
<line x1="655.1" y1="428.6" x2="672.6" y2="428.6" stroke="#1c1c1c" stroke-width="1.3" />
<circle cx="666.6" cy="428.6" r="2.0" fill="#1c1c1c"/>
<text transform="translate(616.2,152.6) rotate(-90) scale(0.78,1)" font-size="12" textLength="14.2" lengthAdjust="spacing" fill="#161616" stroke="#161616" stroke-width="0.12">36</text>
<text transform="translate(606.8,141.8) rotate(-90) scale(0.78,1)" font-size="8.5" textLength="5.6" lengthAdjust="spacing" fill="#161616" stroke="#161616" stroke-width="0.12">5</text>
<text transform="translate(628.6,240.0) rotate(-90) scale(0.78,1)" font-size="12" textLength="29.5" lengthAdjust="spacing" fill="#161616" stroke="#161616" stroke-width="0.12">4.26</text>
<text transform="translate(613.7,315.9) rotate(-90) scale(0.78,1)" font-size="12" textLength="14.5" lengthAdjust="spacing" fill="#161616" stroke="#161616" stroke-width="0.12">24</text>
<text transform="translate(625.7,380.2) rotate(-90) scale(0.78,1)" font-size="12" textLength="34.0" lengthAdjust="spacing" fill="#161616" stroke="#161616" stroke-width="0.12">2.76</text>
<text transform="translate(617.0,430.5) rotate(-90) scale(0.78,1)" font-size="12" textLength="14.7" lengthAdjust="spacing" fill="#161616" stroke="#161616" stroke-width="0.12">36</text>
<text transform="translate(607.5,419.0) rotate(-90) scale(0.78,1)" font-size="8.5" textLength="6.0" lengthAdjust="spacing" fill="#161616" stroke="#161616" stroke-width="0.12">5</text>
<text transform="translate(663.0,295.8) rotate(-90) scale(0.78,1)" font-size="12" textLength="31.8" lengthAdjust="spacing" fill="#161616" stroke="#161616" stroke-width="0.12">7.99</text>
<polyline points="209.3,518.6 216.1,518.4 254.2,515.6 323.9,513.6 359.5,512.8 438.8,512.2 473.8,511.8 499.8,511.7 535.9,511.5 572.8,511.4 578.0,511.3" fill="none" stroke="#1c1c1c" stroke-width="1.6" />
<line x1="216.1" y1="505.9" x2="216.1" y2="524.9" stroke="#1c1c1c" stroke-width="1.4" />
<circle cx="216.1" cy="518.4" r="2.1" fill="#1c1c1c"/>
<line x1="323.9" y1="501.1" x2="323.9" y2="520.1" stroke="#1c1c1c" stroke-width="1.4" />
<circle cx="323.9" cy="513.6" r="2.1" fill="#1c1c1c"/>
<line x1="359.5" y1="500.3" x2="359.5" y2="519.3" stroke="#1c1c1c" stroke-width="1.4" />
<circle cx="359.5" cy="512.8" r="2.1" fill="#1c1c1c"/>
<line x1="438.8" y1="499.7" x2="438.8" y2="518.7" stroke="#1c1c1c" stroke-width="1.4" />
<circle cx="438.8" cy="512.2" r="2.1" fill="#1c1c1c"/>
<line x1="473.8" y1="499.3" x2="473.8" y2="518.3" stroke="#1c1c1c" stroke-width="1.4" />
<circle cx="473.8" cy="511.8" r="2.1" fill="#1c1c1c"/>
<line x1="499.8" y1="499.2" x2="499.8" y2="518.2" stroke="#1c1c1c" stroke-width="1.4" />
<circle cx="499.8" cy="511.7" r="2.1" fill="#1c1c1c"/>
<line x1="535.9" y1="499.0" x2="535.9" y2="518.0" stroke="#1c1c1c" stroke-width="1.4" />
<circle cx="535.9" cy="511.5" r="2.1" fill="#1c1c1c"/>
<line x1="572.8" y1="498.9" x2="572.8" y2="517.9" stroke="#1c1c1c" stroke-width="1.4" />
<circle cx="572.8" cy="511.4" r="2.1" fill="#1c1c1c"/>
<polyline points="205.0,560.5 228.4,559.3 310.0,556.0 381.4,554.4 474.3,553.6 559.0,553.2 572.8,553.0 578.0,553.0" fill="none" stroke="#1c1c1c" stroke-width="1.6" />
<line x1="215.2" y1="548.8" x2="215.2" y2="565.8" stroke="#1c1c1c" stroke-width="1.4" />
<circle cx="215.2" cy="559.8" r="2.1" fill="#1c1c1c"/>
<line x1="228.4" y1="548.3" x2="228.4" y2="565.3" stroke="#1c1c1c" stroke-width="1.4" />
<circle cx="228.4" cy="559.3" r="2.1" fill="#1c1c1c"/>
<line x1="310.0" y1="545.0" x2="310.0" y2="562.0" stroke="#1c1c1c" stroke-width="1.4" />
<circle cx="310.0" cy="556.0" r="2.1" fill="#1c1c1c"/>
<line x1="313.7" y1="544.9" x2="313.7" y2="561.9" stroke="#1c1c1c" stroke-width="1.4" />
<circle cx="313.7" cy="555.9" r="2.1" fill="#1c1c1c"/>
<line x1="376.0" y1="543.5" x2="376.0" y2="560.5" stroke="#1c1c1c" stroke-width="1.4" />
<circle cx="376.0" cy="554.5" r="2.1" fill="#1c1c1c"/>
<line x1="385.5" y1="543.3" x2="385.5" y2="560.3" stroke="#1c1c1c" stroke-width="1.4" />
<circle cx="385.5" cy="554.3" r="2.1" fill="#1c1c1c"/>
<line x1="474.3" y1="542.6" x2="474.3" y2="559.6" stroke="#1c1c1c" stroke-width="1.4" />
<circle cx="474.3" cy="553.6" r="2.1" fill="#1c1c1c"/>
<line x1="477.0" y1="542.6" x2="477.0" y2="559.6" stroke="#1c1c1c" stroke-width="1.4" />
<circle cx="477.0" cy="553.6" r="2.1" fill="#1c1c1c"/>
<line x1="559.0" y1="542.2" x2="559.0" y2="559.2" stroke="#1c1c1c" stroke-width="1.4" />
<circle cx="559.0" cy="553.2" r="2.1" fill="#1c1c1c"/>
<line x1="572.8" y1="542.0" x2="572.8" y2="559.0" stroke="#1c1c1c" stroke-width="1.4" />
<circle cx="572.8" cy="553.0" r="2.1" fill="#1c1c1c"/>
<text transform="translate(257.5,511.4) scale(0.78,1)" font-size="13.5" textLength="30.0" lengthAdjust="spacing" fill="#161616" stroke="#161616" stroke-width="0.35" font-weight="normal">2.99</text>
<text transform="translate(332.0,508.8) scale(0.78,1)" font-size="13.5" textLength="27.6" lengthAdjust="spacing" fill="#161616" stroke="#161616" stroke-width="0.35" font-weight="normal">1.01</text>
<text transform="translate(331.6,527.9) scale(0.78,1)" font-size="13.5" textLength="27.1" lengthAdjust="spacing" fill="#161616" stroke="#161616" stroke-width="0.35" font-weight="normal">1.26</text>
<text transform="translate(385.5,508.7) scale(0.78,1)" font-size="13.5" textLength="31.4" lengthAdjust="spacing" fill="#161616" stroke="#161616" stroke-width="0.35" font-weight="normal">2.23</text>
<text transform="translate(410.4,503.0) scale(0.78,1)" font-size="9.5" textLength="5.9" lengthAdjust="spacing" fill="#161616" stroke="#161616" stroke-width="0.35" font-weight="normal">9</text>
<text transform="translate(447.0,508.0) scale(0.78,1)" font-size="13.5" textLength="26.3" lengthAdjust="spacing" fill="#161616" stroke="#161616" stroke-width="0.35" font-weight="normal">1.01</text>
<text transform="translate(478.4,508.0) scale(0.78,1)" font-size="13.5" textLength="14.9" lengthAdjust="spacingAndGlyphs" fill="#161616" stroke="#161616" stroke-width="0.35" font-weight="normal">74</text>
<text transform="translate(490.4,502.5) scale(0.78,1)" font-size="9.5" textLength="5.6" lengthAdjust="spacing" fill="#161616" stroke="#161616" stroke-width="0.35" font-weight="normal">1</text>
<text transform="translate(508.5,508.0) scale(0.78,1)" font-size="13.5" textLength="26.3" lengthAdjust="spacing" fill="#161616" stroke="#161616" stroke-width="0.35" font-weight="normal">1.01</text>
<text transform="translate(548.0,508.0) scale(0.78,1)" font-size="13.5" textLength="14.1" lengthAdjust="spacingAndGlyphs" fill="#161616" stroke="#161616" stroke-width="0.35" font-weight="normal">99</text>
<text transform="translate(445.0,525.0) scale(0.78,1)" font-size="13.5" textLength="28.2" lengthAdjust="spacing" fill="#161616" stroke="#161616" stroke-width="0.35" font-weight="normal">2.16</text>
<text transform="translate(508.5,525.0) scale(0.78,1)" font-size="13.5" textLength="26.3" lengthAdjust="spacing" fill="#161616" stroke="#161616" stroke-width="0.35" font-weight="normal">1.26</text>
<text transform="translate(213.9,544.4) scale(0.78,1)" font-size="13.5" textLength="14.7" lengthAdjust="spacingAndGlyphs" fill="#161616" stroke="#161616" stroke-width="0.35" font-weight="normal">36</text>
<text transform="translate(225.9,538.3) scale(0.78,1)" font-size="9.5" textLength="6.5" lengthAdjust="spacing" fill="#161616" stroke="#161616" stroke-width="0.35" font-weight="normal">5</text>
<text transform="translate(305.8,544.0) scale(0.78,1)" font-size="13.5" textLength="10.9" lengthAdjust="spacingAndGlyphs" fill="#161616" stroke="#161616" stroke-width="0.35" font-weight="normal">11</text>
<text transform="translate(314.6,538.0) scale(0.78,1)" font-size="9.5" textLength="7.7" lengthAdjust="spacing" fill="#161616" stroke="#161616" stroke-width="0.35" font-weight="normal">5</text>
<text transform="translate(256.7,553.4) scale(0.78,1)" font-size="13.5" textLength="29.7" lengthAdjust="spacing" fill="#161616" stroke="#161616" stroke-width="0.35" font-weight="normal">2.26</text>
<text transform="translate(335.0,553.0) scale(0.78,1)" font-size="13.5" textLength="27.9" lengthAdjust="spacing" fill="#161616" stroke="#161616" stroke-width="0.35" font-weight="normal">1.76</text>
<text transform="translate(376.0,538.8) scale(0.78,1)" font-size="13.5" textLength="14.1" lengthAdjust="spacingAndGlyphs" fill="#161616" stroke="#161616" stroke-width="0.35" font-weight="normal">24</text>
<text transform="translate(418.3,549.7) scale(0.78,1)" font-size="13.5" textLength="28.1" lengthAdjust="spacing" fill="#161616" stroke="#161616" stroke-width="0.35" font-weight="normal">2.51</text>
<text transform="translate(470.0,536.0) scale(0.78,1)" font-size="13.5" textLength="11.5" lengthAdjust="spacingAndGlyphs" fill="#161616" stroke="#161616" stroke-width="0.35" font-weight="normal">11</text>
<text transform="translate(479.4,530.5) scale(0.78,1)" font-size="9.5" textLength="5.9" lengthAdjust="spacing" fill="#161616" stroke="#161616" stroke-width="0.35" font-weight="normal">5</text>
<text transform="translate(505.8,549.7) scale(0.78,1)" font-size="13.5" textLength="29.7" lengthAdjust="spacing" fill="#161616" stroke="#161616" stroke-width="0.35" font-weight="normal">2.26</text>
<text transform="translate(557.2,537.4) scale(0.78,1)" font-size="13.5" textLength="14.5" lengthAdjust="spacingAndGlyphs" fill="#161616" stroke="#161616" stroke-width="0.35" font-weight="normal">36</text>
<text transform="translate(569.0,532.0) scale(0.78,1)" font-size="9.5" textLength="6.7" lengthAdjust="spacing" fill="#161616" stroke="#161616" stroke-width="0.35" font-weight="normal">5</text>
<text transform="translate(83.7,479.1) scale(1.0,1)" font-size="11.8" textLength="7.8" lengthAdjust="spacingAndGlyphs" fill="#161616" stroke="#161616" stroke-width="0.1" font-weight="bold">13</text>
<text transform="translate(95.4,479.1) scale(1.0,1)" font-size="11.8" textLength="18.6" lengthAdjust="spacingAndGlyphs" fill="#161616" stroke="#161616" stroke-width="0.1" font-weight="bold">STG.</text>
<text transform="translate(118.8,479.1) scale(1.0,1)" font-size="11.8" textLength="29.2" lengthAdjust="spacingAndGlyphs" fill="#161616" stroke="#161616" stroke-width="0.1" font-weight="bold">19.2/26</text>
<text transform="translate(154.0,479.1) scale(1.0,1)" font-size="11.8" textLength="51.7" lengthAdjust="spacingAndGlyphs" fill="#161616" stroke="#161616" stroke-width="0.1" font-weight="bold">Kellertreppe</text>
<text transform="translate(83.7,493.2) scale(1.0,1)" font-size="11.8" textLength="7.6" lengthAdjust="spacingAndGlyphs" fill="#161616" stroke="#161616" stroke-width="0.1" font-weight="bold">15</text>
<text transform="translate(95.4,493.2) scale(1.0,1)" font-size="11.8" textLength="18.6" lengthAdjust="spacingAndGlyphs" fill="#161616" stroke="#161616" stroke-width="0.1" font-weight="bold">STG.</text>
<text transform="translate(118.8,493.2) scale(1.0,1)" font-size="11.8" textLength="29.2" lengthAdjust="spacingAndGlyphs" fill="#161616" stroke="#161616" stroke-width="0.1" font-weight="bold">18.7/26</text>
<text transform="translate(154.0,493.2) scale(1.0,1)" font-size="11.8" textLength="11.7" lengthAdjust="spacingAndGlyphs" fill="#161616" stroke="#161616" stroke-width="0.1" font-weight="bold">EG</text>
<text transform="translate(168.6,493.2) scale(1.0,1)" font-size="11.8" textLength="3.9" lengthAdjust="spacingAndGlyphs" fill="#161616" stroke="#161616" stroke-width="0.1" font-weight="bold">-</text>
<text transform="translate(176.4,493.2) scale(1.0,1)" font-size="11.8" textLength="24.5" lengthAdjust="spacingAndGlyphs" fill="#161616" stroke="#161616" stroke-width="0.1" font-weight="bold">Treppe</text>
<polyline points="222.1,141.6 259.0,145.3" fill="none" stroke="#1c1c1c" stroke-width="1.8" />
<polyline points="261.5,145.5 274.7,146.0 400.0,146.5 529.0,144.4" fill="none" stroke="#1c1c1c" stroke-width="1.8" />
<polyline points="529.0,143.3 574.5,140.6 573.0,300.0 572.5,426.5 473.0,427.7" fill="none" stroke="#1c1c1c" stroke-width="1.8" />
<polyline points="439.3,428.6 400.0,428.6 324.5,430.3 218.3,432.3 220.0,313.0 222.1,141.6" fill="none" stroke="#1c1c1c" stroke-width="1.8" />
<polyline points="235.1,269.5 235.1,156.5 259.0,158.6" fill="none" stroke="#1c1c1c" stroke-width="1.8" />
<polyline points="261.5,158.7 274.7,158.7 380.9,158.7 380.9,269.7 351.8,269.9" fill="none" stroke="#1c1c1c" stroke-width="1.8" />
<line x1="274.7" y1="146.0" x2="274.7" y2="158.7" stroke="#1c1c1c" stroke-width="1.8" />
<line x1="345.8" y1="146.3" x2="345.8" y2="158.7" stroke="#1c1c1c" stroke-width="1.8" />
<line x1="276.0" y1="149.4" x2="344.5" y2="149.4" stroke="#1c1c1c" stroke-width="2.2" />
<line x1="276.0" y1="147.5" x2="344.5" y2="147.5" stroke="#1c1c1c" stroke-width="0.8" />
<line x1="235.1" y1="269.5" x2="321.8" y2="270.5" stroke="#1c1c1c" stroke-width="1.8" />
<polyline points="234.2,273.9 314.4,274.3 314.4,278.0 318.2,278.0 318.2,274.8 321.4,274.8 321.4,270.3" fill="none" stroke="#1c1c1c" stroke-width="1.8" />
<polyline points="283.9,279.7 313.9,279.7 313.9,278.0" fill="none" stroke="#1c1c1c" stroke-width="1.8" />
<polyline points="351.8,274.1 388.5,274.5 388.5,159.6 424.8,159.6 424.8,146.3" fill="none" stroke="#1c1c1c" stroke-width="1.8" />
<line x1="426.0" y1="149.2" x2="494.5" y2="149.2" stroke="#1c1c1c" stroke-width="2.2" />
<line x1="424.8" y1="151.3" x2="495.6" y2="151.3" stroke="#1c1c1c" stroke-width="0.9" />
<line x1="495.6" y1="145.3" x2="495.6" y2="151.3" stroke="#1c1c1c" stroke-width="1.0" />
<polyline points="526.9,144.4 526.9,155.8 529.5,155.8 561.0,155.8 559.0,300.0 560.3,307.0" fill="none" stroke="#1c1c1c" stroke-width="1.8" />
<polyline points="529.5,144.4 529.5,155.8" fill="none" stroke="#1c1c1c" stroke-width="1.0" />
<polyline points="234.2,273.7 232.9,313.8" fill="none" stroke="#1c1c1c" stroke-width="1.8" />
<polyline points="232.9,359.9 231.5,418.8 312.0,418.8 315.0,310.2 313.4,309.6" fill="none" stroke="#1c1c1c" stroke-width="1.8" />
<line x1="220.2" y1="313.8" x2="232.9" y2="313.8" stroke="#1c1c1c" stroke-width="1.8" />
<line x1="220.2" y1="359.9" x2="232.9" y2="359.9" stroke="#1c1c1c" stroke-width="1.8" />
<line x1="223.3" y1="314.5" x2="223.3" y2="359.0" stroke="#1c1c1c" stroke-width="2.2" />
<line x1="225.0" y1="314.5" x2="225.0" y2="359.0" stroke="#1c1c1c" stroke-width="0.8" />
<line x1="232.9" y1="313.8" x2="232.9" y2="359.9" stroke="#1c1c1c" stroke-width="1.0" />
<polyline points="316.4,416.7 318.2,310.2 318.2,314.5 321.4,314.5" fill="none" stroke="#1c1c1c" stroke-width="1.8" />
<polyline points="348.4,314.1 380.4,314.1 380.4,317.9" fill="none" stroke="#1c1c1c" stroke-width="1.8" />
<polyline points="348.4,314.1 348.4,318.0" fill="none" stroke="#1c1c1c" stroke-width="1.0" />
<polyline points="316.8,416.7 378.6,416.7 378.6,318.2 352.0,318.2" fill="none" stroke="#1c1c1c" stroke-width="1.8" />
<line x1="325.2" y1="416.7" x2="325.2" y2="430.3" stroke="#1c1c1c" stroke-width="1.8" />
<line x1="361.0" y1="416.7" x2="361.0" y2="429.8" stroke="#1c1c1c" stroke-width="1.8" />
<line x1="326.0" y1="426.6" x2="360.0" y2="426.6" stroke="#1c1c1c" stroke-width="2.2" />
<polyline points="379.6,309.9 441.5,309.9 441.5,317.9 387.7,317.9 387.7,417.0 439.3,417.0 439.3,428.6" fill="none" stroke="#1c1c1c" stroke-width="1.8" />
<polyline points="379.6,309.9 379.6,313.9 380.4,314.1" fill="none" stroke="#1c1c1c" stroke-width="1.8" />
<line x1="386.8" y1="317.9" x2="386.8" y2="417.0" stroke="#1c1c1c" stroke-width="1.0" />
<polyline points="471.2,308.3 560.3,307.0" fill="none" stroke="#1c1c1c" stroke-width="1.8" />
<polyline points="474.3,309.3 474.3,343.5 478.3,343.5" fill="none" stroke="#1c1c1c" stroke-width="1.8" />
<polyline points="478.3,316.7 558.8,315.6 558.8,415.3 478.3,415.3 478.3,370.0 474.3,370.0 474.3,427.7" fill="none" stroke="#1c1c1c" stroke-width="1.8" />
<line x1="478.3" y1="316.7" x2="478.3" y2="343.5" stroke="#1c1c1c" stroke-width="1.8" />
<line x1="501.0" y1="415.3" x2="501.0" y2="427.5" stroke="#1c1c1c" stroke-width="1.8" />
<line x1="537.5" y1="415.3" x2="537.5" y2="427.0" stroke="#1c1c1c" stroke-width="1.8" />
<line x1="502.0" y1="424.5" x2="536.5" y2="424.5" stroke="#1c1c1c" stroke-width="2.2" />
<path d="M321.8,270.5 A30,30 0 0 1 351.8,240.5" fill="none" stroke="#1c1c1c" stroke-width="1.2" />
<path d="M283.9,279.7 A29.5,29.5 0 0 0 313.4,309.2" fill="none" stroke="#1c1c1c" stroke-width="1.2" />
<path d="M321.4,342.4 A27,27 0 0 0 348.4,315.4" fill="none" stroke="#1c1c1c" stroke-width="1.2" />
<line x1="321.4" y1="315.4" x2="321.4" y2="342.4" stroke="#1c1c1c" stroke-width="1.2" />
<path d="M441.5,280.4 A29.5,29.5 0 0 1 471.0,309.9" fill="none" stroke="#1c1c1c" stroke-width="1.2" />
<line x1="441.5" y1="280.4" x2="441.5" y2="309.9" stroke="#1c1c1c" stroke-width="1.4" />
<path d="M442.1,425.5 A27.5,27.5 0 0 1 469.6,398.0" fill="none" stroke="#1c1c1c" stroke-width="1.2" />
<rect x="469.4" y="398.0" width="3.4" height="27.7" rx="1" fill="none" stroke="#1c1c1c" stroke-width="1.1" />
<line x1="439.3" y1="427.9" x2="474.3" y2="427.9" stroke="#1c1c1c" stroke-width="1.5" />
<path d="M504.3,343.5 A26,26 0 0 1 478.3,369.5" fill="none" stroke="#1c1c1c" stroke-width="1.2" />
<path d="M496.5,149.6 A29.3,29.3 0 0 0 525.8,178.9" fill="none" stroke="#1c1c1c" stroke-width="1.2" />
<line x1="525.8" y1="149.6" x2="525.8" y2="178.9" stroke="#1c1c1c" stroke-width="1.3" />
<line x1="351.8" y1="240.5" x2="351.8" y2="270.5" stroke="#1c1c1c" stroke-width="1.3" />
<line x1="457.4" y1="99.6" x2="455.0" y2="470.0" stroke="#444" stroke-width="1.1" stroke-dasharray="1.3,1.6"/>
<path d="M440.5,113 L454.1,98.8 L454.1,127 Z" fill="none" stroke="#1c1c1c" stroke-width="1.4" />
<rect x="235.4" y="161.0" width="14.3" height="15.3" rx="0" fill="none" stroke="#1c1c1c" stroke-width="1.3" />
<rect x="235.4" y="253.0" width="14.3" height="15.5" rx="0" fill="none" stroke="#1c1c1c" stroke-width="1.3" />
<rect x="235.4" y="178.5" width="69.6" height="73.5" rx="0" fill="none" stroke="#1c1c1c" stroke-width="1.5" />
<rect x="239.0" y="186.0" width="12.0" height="23.0" rx="0" fill="none" stroke="#1c1c1c" stroke-width="1.3" />
<rect x="239.0" y="219.0" width="12.0" height="23.0" rx="0" fill="none" stroke="#1c1c1c" stroke-width="1.3" />
<path d="M254.3,194.3 L264.3,184.3 Q283,186.5 302,184.3 L302,213.8 L254.3,213.8 Z" fill="none" stroke="#1c1c1c" stroke-width="1.3" />
<path d="M254.3,194.3 L264.3,194.3 L264.3,184.3" fill="none" stroke="#1c1c1c" stroke-width="1.0" />
<path d="M254.3,216 L302,216 L302,248.6 Q283,246.5 264.3,248.6 L254.3,238.6 Z" fill="none" stroke="#1c1c1c" stroke-width="1.3" />
<path d="M254.3,238.6 L264.3,238.6 L264.3,248.6" fill="none" stroke="#1c1c1c" stroke-width="1.0" />
<line x1="260.0" y1="207.0" x2="262.9" y2="211.4" stroke="#1c1c1c" stroke-width="1.5" />
<line x1="260.0" y1="221.4" x2="262.9" y2="227.0" stroke="#1c1c1c" stroke-width="1.5" />
<line x1="282.0" y1="201.0" x2="288.0" y2="207.0" stroke="#1c1c1c" stroke-width="1.8" />
<line x1="282.0" y1="236.0" x2="288.0" y2="230.0" stroke="#1c1c1c" stroke-width="1.8" />
<rect x="357.7" y="162.9" width="21.5" height="106.8" rx="0" fill="none" stroke="#1c1c1c" stroke-width="1.3" />
<line x1="357.7" y1="162.9" x2="379.2" y2="199.0" stroke="#1c1c1c" stroke-width="0.9" />
<line x1="379.2" y1="162.9" x2="357.7" y2="199.0" stroke="#1c1c1c" stroke-width="0.9" />
<line x1="357.7" y1="199.0" x2="379.2" y2="199.0" stroke="#1c1c1c" stroke-width="1.1" />
<line x1="357.7" y1="199.0" x2="379.2" y2="234.0" stroke="#1c1c1c" stroke-width="0.9" />
<line x1="379.2" y1="199.0" x2="357.7" y2="234.0" stroke="#1c1c1c" stroke-width="0.9" />
<line x1="357.7" y1="234.0" x2="379.2" y2="234.0" stroke="#1c1c1c" stroke-width="1.1" />
<line x1="357.7" y1="234.0" x2="379.2" y2="269.7" stroke="#1c1c1c" stroke-width="0.9" />
<line x1="379.2" y1="234.0" x2="357.7" y2="269.7" stroke="#1c1c1c" stroke-width="0.9" />
<line x1="357.7" y1="269.7" x2="379.2" y2="269.7" stroke="#1c1c1c" stroke-width="1.1" />
<line x1="360.0" y1="163.0" x2="360.0" y2="269.0" stroke="#1c1c1c" stroke-width="0.7" />
<rect x="392.1" y="166.3" width="28.5" height="85.3" rx="3" fill="none" stroke="#1c1c1c" stroke-width="1.3" />
<line x1="399.1" y1="167.0" x2="399.1" y2="251.0" stroke="#1c1c1c" stroke-width="1.3" />
<line x1="392.1" y1="194.4" x2="420.6" y2="194.4" stroke="#1c1c1c" stroke-width="1.3" />
<line x1="392.1" y1="222.5" x2="420.6" y2="222.5" stroke="#1c1c1c" stroke-width="1.3" />
<rect x="400.0" y="163.4" width="20.6" height="5.7" rx="2.8" fill="#e4e5e3" stroke="#1c1c1c" stroke-width="1.3" />
<rect x="400.0" y="247.9" width="20.6" height="6.5" rx="3" fill="#d9dad8" stroke="#1c1c1c" stroke-width="1.3" />
<rect x="428.0" y="183.6" width="25.7" height="42.9" rx="4" fill="none" stroke="#1c1c1c" stroke-width="1.3" />
<g transform="translate(474.65,184.95) rotate(0)">
<rect x="-14.2" y="-13.8" width="21.4" height="28.1" rx="3" fill="none" stroke="#1c1c1c" stroke-width="1.3" />
<rect x="-10.8" y="-17.1" width="17.4" height="5.3" rx="2.6" fill="#e6e7e5" stroke="#1c1c1c" stroke-width="1.3" />
<rect x="-10.8" y="12.1" width="17.4" height="5.0" rx="2.5" fill="#e0e1df" stroke="#1c1c1c" stroke-width="1.3" />
<rect x="6.7" y="-14.9" width="7.6" height="29.3" rx="2" fill="#e3e4e2" stroke="#1c1c1c" stroke-width="1.3" />
</g>
<g transform="translate(465.7,238.7) rotate(45)">
<rect x="-14.2" y="-13.8" width="21.4" height="28.1" rx="3" fill="none" stroke="#1c1c1c" stroke-width="1.3" />
<rect x="-10.8" y="-17.1" width="17.4" height="5.3" rx="2.6" fill="#e6e7e5" stroke="#1c1c1c" stroke-width="1.3" />
<rect x="-10.8" y="12.1" width="17.4" height="5.0" rx="2.5" fill="#e0e1df" stroke="#1c1c1c" stroke-width="1.3" />
<rect x="6.7" y="-14.9" width="7.6" height="29.3" rx="2" fill="#e3e4e2" stroke="#1c1c1c" stroke-width="1.3" />
</g>
<g fill="#4a4a4a" stroke="#111" stroke-width="1.1">
<path transform="translate(442.6,163.6) rotate(-56.5)" d="M2,0 C5,-5.5 8.5,-5.5 14.1,0 C8.5,5.5 5,5.5 2,0 Z"/>
<path transform="translate(442.6,163.6) rotate(-161.9)" d="M2,0 C5,-5.5 9.1,-5.5 15.1,0 C9.1,5.5 5,5.5 2,0 Z"/>
<path transform="translate(442.6,163.6) rotate(-0.8)" d="M2,0 C5,-5.5 8.7,-5.5 14.5,0 C8.7,5.5 5,5.5 2,0 Z"/>
<path transform="translate(442.6,163.6) rotate(124.6)" d="M2,0 C5,-5.5 10.1,-5.5 16.9,0 C10.1,5.5 5,5.5 2,0 Z"/>
<path transform="translate(442.6,163.6) rotate(54.2)" d="M2,0 C5,-5.5 9.3,-5.5 15.5,0 C9.3,5.5 5,5.5 2,0 Z"/>
</g>
<circle cx="442.6" cy="163.6" r="1.6" fill="#ddd"/>
<rect x="480.7" y="290.7" width="49.8" height="14.3" rx="1" fill="none" stroke="#1c1c1c" stroke-width="1.3" />
<rect x="541.0" y="178.0" width="15.2" height="108.5" rx="0" fill="none" stroke="#1c1c1c" stroke-width="1.2" />
<line x1="541.0" y1="178.0" x2="556.2" y2="218.0" stroke="#1c1c1c" stroke-width="0.9" />
<line x1="556.2" y1="178.0" x2="541.0" y2="218.0" stroke="#1c1c1c" stroke-width="0.9" />
<line x1="541.0" y1="248.0" x2="556.2" y2="286.5" stroke="#1c1c1c" stroke-width="0.9" />
<line x1="556.2" y1="248.0" x2="541.0" y2="286.5" stroke="#1c1c1c" stroke-width="0.9" />
<rect x="530.4" y="218.0" width="25.8" height="29.0" rx="0" fill="#e2e3e1" stroke="#1c1c1c" stroke-width="1.2" />
<path d="M548,221 Q540,232 548,244" fill="none" stroke="#1c1c1c" stroke-width="1.1" stroke-dasharray="3,2"/>
<rect x="235.0" y="274.5" width="36.4" height="21.9" rx="0" fill="none" stroke="#1c1c1c" stroke-width="1.2" />
<line x1="237.0" y1="276.0" x2="270.0" y2="295.0" stroke="#1c1c1c" stroke-width="0.9" />
<line x1="270.0" y1="276.0" x2="237.0" y2="295.0" stroke="#1c1c1c" stroke-width="0.9" />
<rect x="234.5" y="312.5" width="24.9" height="50.6" rx="0" fill="none" stroke="#1c1c1c" stroke-width="1.3" />
<rect x="260.2" y="331.0" width="14.4" height="14.4" rx="2" fill="none" stroke="#1c1c1c" stroke-width="1.3" />
<rect x="296.8" y="362.0" width="14.5" height="14.4" rx="0" fill="none" stroke="#1c1c1c" stroke-width="1.3" />
<rect x="240.0" y="378.7" width="72.0" height="37.6" rx="0" fill="none" stroke="#1c1c1c" stroke-width="1.4" />
<rect x="243.0" y="382.0" width="69.0" height="31.0" rx="0" fill="none" stroke="#1c1c1c" stroke-width="0.8" />
<path d="M245.6,383.5 L291.7,382.3 L291.7,401 L284.5,412 L245.6,412 Z" fill="none" stroke="#1c1c1c" stroke-width="1.3" />
<path d="M284.5,412 L286.5,403.5 L291.7,401" fill="none" stroke="#1c1c1c" stroke-width="1.0" />
<rect x="295.6" y="384.0" width="12.4" height="23.8" rx="0" fill="none" stroke="#1c1c1c" stroke-width="1.3" />
<line x1="257.3" y1="388.6" x2="264.3" y2="394.0" stroke="#1c1c1c" stroke-width="1.8" />
<line x1="285.4" y1="385.5" x2="283.0" y2="390.0" stroke="#1c1c1c" stroke-width="1.6" />
<rect x="352.3" y="319.0" width="26.7" height="62.0" rx="0" fill="none" stroke="#1c1c1c" stroke-width="1.2" />
<path d="M358,378 L355.5,333 Q355.5,325 366,325 Q376.5,325 376.5,333 L374,378 Z" fill="none" stroke="#1c1c1c" stroke-width="1.3" />
<line x1="356.0" y1="338.0" x2="376.0" y2="338.0" stroke="#1c1c1c" stroke-width="0.9" />
<circle cx="367.0" cy="370.0" r="1.1" fill="#1c1c1c"/>
<path d="M318.2,388 L326,388 Q334.6,390 334.6,398.5 Q334.6,408 326,409.6 L318.2,409.6 Z" fill="none" stroke="#1c1c1c" stroke-width="1.3" />
<path d="M320,391 L325,391 Q331,393 331,398.5 Q331,405 325,406.5 L320,406.5 Z" fill="none" stroke="#1c1c1c" stroke-width="0.9" />
<ellipse cx="364.5" cy="399.5" rx="9.5" ry="7.5" fill="none" stroke="#262626" stroke-width="1.1"/>
<rect x="373.3" y="391.3" width="5.3" height="17.2" rx="0" fill="none" stroke="#1c1c1c" stroke-width="1.3" />
<polyline points="388.2,318.2 435.8,318.2 435.8,354.0 423.0,354.0 423.0,379.7 435.8,379.7 435.8,416.6" fill="none" stroke="#1c1c1c" stroke-width="1.2" />
<line x1="389.2" y1="319.2" x2="424.1" y2="352.0" stroke="#1c1c1c" stroke-width="1.2" />
<line x1="410.8" y1="318.2" x2="429.2" y2="352.0" stroke="#1c1c1c" stroke-width="1.2" />
<line x1="422.0" y1="318.2" x2="435.4" y2="352.0" stroke="#1c1c1c" stroke-width="1.2" />
<line x1="388.2" y1="338.7" x2="423.0" y2="354.0" stroke="#1c1c1c" stroke-width="1.2" />
<line x1="388.2" y1="354.0" x2="423.0" y2="361.3" stroke="#1c1c1c" stroke-width="1.2" />
<line x1="388.2" y1="367.4" x2="423.0" y2="368.4" stroke="#1c1c1c" stroke-width="1.2" />
<line x1="388.2" y1="378.7" x2="423.0" y2="373.6" stroke="#1c1c1c" stroke-width="1.2" />
<line x1="388.2" y1="390.0" x2="423.0" y2="378.7" stroke="#1c1c1c" stroke-width="1.2" />
<line x1="388.2" y1="402.3" x2="421.0" y2="381.8" stroke="#1c1c1c" stroke-width="1.2" />
<line x1="392.3" y1="416.6" x2="424.1" y2="381.8" stroke="#1c1c1c" stroke-width="1.2" />
<line x1="406.7" y1="416.6" x2="429.2" y2="381.8" stroke="#1c1c1c" stroke-width="1.2" />
<line x1="416.9" y1="416.6" x2="434.3" y2="382.8" stroke="#1c1c1c" stroke-width="1.2" />
<line x1="426.1" y1="416.6" x2="435.8" y2="392.0" stroke="#1c1c1c" stroke-width="1.2" />
<line x1="389.0" y1="321.3" x2="423.0" y2="321.3" stroke="#333" stroke-width="1.1" stroke-dasharray="1.6,1.8"/>
<line x1="389.0" y1="330.5" x2="423.0" y2="330.5" stroke="#333" stroke-width="1.1" stroke-dasharray="1.6,1.8"/>
<line x1="389.0" y1="339.7" x2="423.0" y2="339.7" stroke="#333" stroke-width="1.1" stroke-dasharray="1.6,1.8"/>
<line x1="389.0" y1="349.0" x2="423.0" y2="349.0" stroke="#333" stroke-width="1.1" stroke-dasharray="1.6,1.8"/>
<line x1="389.0" y1="409.0" x2="422.0" y2="385.0" stroke="#333" stroke-width="1.0" stroke-dasharray="1.6,1.8"/>
<line x1="398.0" y1="416.0" x2="426.0" y2="384.0" stroke="#333" stroke-width="1.0" stroke-dasharray="1.6,1.8"/>
<line x1="389.0" y1="396.0" x2="422.0" y2="380.0" stroke="#333" stroke-width="1.0" stroke-dasharray="1.6,1.8"/>
<line x1="389.0" y1="384.0" x2="422.0" y2="376.0" stroke="#333" stroke-width="1.0" stroke-dasharray="1.6,1.8"/>
<path d="M404.6,386 L404.6,349 Q404.6,335.6 423,335.6 L435.8,335.6" fill="none" stroke="#1c1c1c" stroke-width="1.1" />
<path d="M430.5,331.5 L436,335.6 L430.5,339.7 Z" fill="none" stroke="#1c1c1c" stroke-width="1.1" />
<path d="M404.6,386 Q404.6,398.2 423,398.2 L432.8,398.2" fill="none" stroke="#1c1c1c" stroke-width="1.1" />
<circle cx="435.8" cy="398.2" r="3" fill="none" stroke="#1c1c1c" stroke-width="1.1"/>
<line x1="387.8" y1="293.8" x2="423.0" y2="293.8" stroke="#222" stroke-width="1.8" stroke-dasharray="2.6,1.4"/>
<line x1="387.8" y1="302.9" x2="423.0" y2="302.9" stroke="#222" stroke-width="1.6" stroke-dasharray="1.2,2.3"/>
<line x1="388.5" y1="294.0" x2="388.5" y2="303.0" stroke="#666" stroke-width="0.9" stroke-dasharray="1.2,2"/>
<line x1="422.5" y1="294.0" x2="422.5" y2="303.0" stroke="#666" stroke-width="0.9" stroke-dasharray="1.2,2"/>
<path d="M401,298.5 L404.5,294.8 L409.5,299" fill="none" stroke="#1c1c1c" stroke-width="1.5" />
<line x1="388.0" y1="312.0" x2="423.0" y2="312.0" stroke="#333" stroke-width="1.2" stroke-dasharray="1.5,1"/>
<line x1="478.3" y1="339.5" x2="535.4" y2="339.5" stroke="#1c1c1c" stroke-width="1.3" />
<rect x="505.6" y="318.6" width="21.3" height="18.9" rx="0" fill="none" stroke="#1c1c1c" stroke-width="1.3" />
<circle cx="511" cy="323.5" r="3" fill="none" stroke="#262626" stroke-width="1"/>
<circle cx="521" cy="323.5" r="3" fill="none" stroke="#262626" stroke-width="1"/>
<circle cx="511" cy="332" r="3" fill="none" stroke="#262626" stroke-width="1"/>
<circle cx="521" cy="332" r="3" fill="none" stroke="#262626" stroke-width="1"/>
<polyline points="535.4,340.0 535.4,393.0 478.3,393.0" fill="none" stroke="#1c1c1c" stroke-width="1.3" />
<rect x="536.6" y="347.5" width="21.3" height="44.1" rx="0" fill="none" stroke="#1c1c1c" stroke-width="1.3" />
<line x1="541.0" y1="351.5" x2="541.0" y2="368.8" stroke="#1c1c1c" stroke-width="0.9" />
<line x1="544.0" y1="351.5" x2="544.0" y2="368.8" stroke="#1c1c1c" stroke-width="0.9" />
<line x1="547.0" y1="351.5" x2="547.0" y2="368.8" stroke="#1c1c1c" stroke-width="0.9" />
<line x1="550.0" y1="351.5" x2="550.0" y2="368.8" stroke="#1c1c1c" stroke-width="0.9" />
<line x1="553.0" y1="351.5" x2="553.0" y2="368.8" stroke="#1c1c1c" stroke-width="0.9" />
<rect x="538.4" y="371.8" width="16.4" height="17.2" rx="2" fill="none" stroke="#1c1c1c" stroke-width="1.3" />
<circle cx="553.0" cy="370.0" r="1.4" fill="#1c1c1c"/>
<g fill="none" stroke="#141414" stroke-width="2" stroke-linecap="round">
<path d="M515.4,405.5 Q510,397 507.4,394.3"/>
<path d="M515.4,405.5 Q518,397.5 522,396.3"/>
<path d="M515.4,405.5 Q524,398.5 531.4,403.4"/>
<path d="M515.4,405.5 Q511,400 508,399.7"/>
<path d="M515.4,405.5 Q508.5,402 506.3,406.6"/>
<path d="M515.4,405.5 Q508.5,407 509.4,414.3"/>
<path d="M515.4,405.5 Q513.5,406 514.9,410.9"/>
<path d="M515.4,405.5 Q518.5,406 519.4,412"/>
<path d="M515.4,405.5 Q524.5,405 526,412.6"/>
</g>
<polyline points="430.0,428.6 430.0,488.3 482.5,488.3 482.5,427.7" fill="none" stroke="#1c1c1c" stroke-width="1.3" />
<line x1="430.0" y1="456.3" x2="482.5" y2="456.3" stroke="#1c1c1c" stroke-width="1.3" />
<line x1="430.0" y1="467.0" x2="482.5" y2="467.0" stroke="#1c1c1c" stroke-width="1.3" />
<line x1="430.0" y1="477.7" x2="482.5" y2="477.7" stroke="#1c1c1c" stroke-width="1.3" />
<path d="M437.5,456.8 L451.4,442.9 L451.4,471.4 Z" fill="none" stroke="#1c1c1c" stroke-width="1.3" />
<text transform="translate(316.0,204.5) scale(0.78,1)" font-size="9.8" textLength="42.3" lengthAdjust="spacing" fill="#161616" stroke="#161616" stroke-width="0.35" font-weight="normal">Schlafen</text>
<text transform="translate(315.0,216.0) scale(0.78,1)" font-size="9.8" textLength="44.9" lengthAdjust="spacingAndGlyphs" fill="#161616" stroke="#161616" stroke-width="0.35" font-weight="normal">12.96 m^2</text>
<text transform="translate(491.0,209.0) scale(0.78,1)" font-size="9.8" textLength="30.8" lengthAdjust="spacingAndGlyphs" fill="#161616" stroke="#161616" stroke-width="0.35" font-weight="normal">Wohnen</text>
<text transform="translate(485.0,221.0) scale(0.78,1)" font-size="9.8" textLength="47.4" lengthAdjust="spacing" fill="#161616" stroke="#161616" stroke-width="0.35" font-weight="normal">20.78 m^2</text>
<text transform="translate(343.8,288.8) scale(0.78,1)" font-size="9.8" textLength="26.0" lengthAdjust="spacing" fill="#161616" stroke="#161616" stroke-width="0.35" font-weight="normal">Diele</text>
<text transform="translate(337.5,300.0) scale(0.78,1)" font-size="9.8" textLength="41.2" lengthAdjust="spacing" fill="#161616" stroke="#161616" stroke-width="0.35" font-weight="normal">2.22 m^2</text>
<text transform="translate(276.9,313.0) scale(0.78,1)" font-size="9.8" textLength="22.2" lengthAdjust="spacingAndGlyphs" fill="#161616" stroke="#161616" stroke-width="0.35" font-weight="normal">KIND</text>
<text transform="translate(268.8,324.3) scale(0.78,1)" font-size="9.8" textLength="43.3" lengthAdjust="spacing" fill="#161616" stroke="#161616" stroke-width="0.35" font-weight="normal">9.06 m^2</text>
<text transform="translate(332.0,357.0) scale(0.78,1)" font-size="9.8" textLength="15.4" lengthAdjust="spacingAndGlyphs" fill="#161616" stroke="#161616" stroke-width="0.35" font-weight="normal">Bad</text>
<text transform="translate(333.5,368.3) scale(0.78,1)" font-size="9.8" textLength="10.3" lengthAdjust="spacingAndGlyphs" fill="#161616" stroke="#161616" stroke-width="0.35" font-weight="normal">WC</text>
<text transform="translate(321.4,379.8) scale(0.78,1)" font-size="9.8" textLength="44.7" lengthAdjust="spacing" fill="#161616" stroke="#161616" stroke-width="0.35" font-weight="normal">4.86 m^2</text>
<text transform="translate(446.5,358.0) scale(0.78,1)" font-size="9.8" textLength="19.9" lengthAdjust="spacing" fill="#161616" stroke="#161616" stroke-width="0.35" font-weight="normal">Flur</text>
<text transform="translate(438.2,369.4) scale(0.78,1)" font-size="9.8" textLength="41.3" lengthAdjust="spacing" fill="#161616" stroke="#161616" stroke-width="0.35" font-weight="normal">3.08 m^2</text>
<text transform="translate(496.5,371.8) scale(0.78,1)" font-size="9.8" textLength="31.2" lengthAdjust="spacingAndGlyphs" fill="#161616" stroke="#161616" stroke-width="0.35" font-weight="normal">KOCHEN</text>
<text transform="translate(492.5,384.0) scale(0.78,1)" font-size="9.8" textLength="42.1" lengthAdjust="spacing" fill="#161616" stroke="#161616" stroke-width="0.35" font-weight="normal">6.26 m^2</text>
<text transform="translate(494.0,479.5) rotate(-90) scale(0.78,1)" font-size="9.8" textLength="58.3" lengthAdjust="spacing" fill="#161616" stroke="#161616" stroke-width="0.35">4 STG. 17/30</text>
<defs><linearGradient id="cg" gradientUnits="userSpaceOnUse" x1="0" y1="136" x2="0" y2="437"><stop offset="0" stop-color="#eaebea"/><stop offset="0.5" stop-color="#dfe0df"/><stop offset="1" stop-color="#d6d7d6"/></linearGradient></defs>
<polygon points="258.9,136 260.2,136 257.6,437 256.3,437" fill="url(#cg)" opacity="0.9"/>
</svg>
</body></html>
